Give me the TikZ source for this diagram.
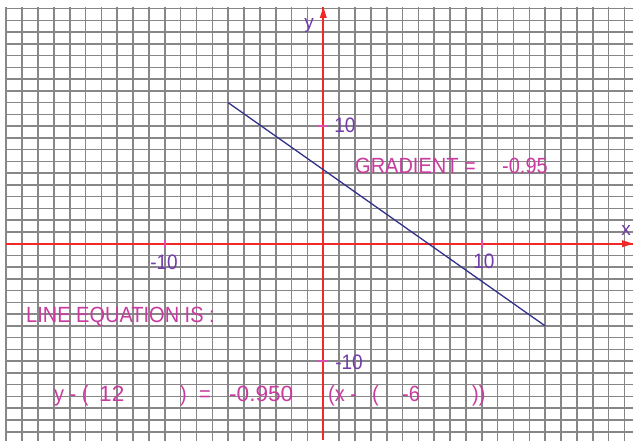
\documentclass[tikz,border=0pt]{standalone}
\usepackage{fontspec}
\setmainfont{Liberation Sans}
\usepackage{graphicx}
\definecolor{gridc}{RGB}{135,135,135}
\definecolor{axisc}{RGB}{240,40,40}
\definecolor{magc}{RGB}{200,60,160}
\definecolor{purc}{RGB}{115,60,170}
\definecolor{linec}{RGB}{50,50,140}
\definecolor{tickc}{RGB}{215,80,180}
\newcommand\tallt[1]{\scalebox{1}[1.1]{#1}}
\newcommand\widet[1]{\scalebox{1.13}[1.1]{#1}}
\tikzset{
  gridline/.style={draw=gridc, line width=1.6pt},
  axisline/.style={draw=axisc, line width=2.2pt},
  axishead/.style={fill=axisc, draw=none},
  tickmark/.style={draw=tickc, line width=1.5pt},
  ticklab/.style={text=purc, font=\fontsize{19}{19}\selectfont, inner sep=0pt},
  axlab/.style={text=purc, font=\fontsize{19}{19}\selectfont, inner sep=0pt},
  eqtxt/.style={text=magc, font=\fontsize{20}{20}\selectfont, inner sep=0pt, anchor=base west},
  graphline/.style={draw=linec, line width=1.3pt}
}
\begin{document}
\begin{tikzpicture}[x=1pt,y=-1pt]
\useasboundingbox (0,0) rectangle (633,441);
\fill[white] (0,0) rectangle (633,441);
\begin{scope}[shift={(323.3,243.7)}, x=15.85pt, y=11.75pt]
  \foreach \i in {-20,...,-1,1,2,...,19} \draw[gridline] (\i,20.15) -- (\i,-16.9);
  \foreach \j in {-16,...,-1,1,2,...,20} \draw[gridline] (-20.05,\j) -- (19.6,\j);
  \coordinate (xl) at (-20.05,0);
  \coordinate (xr) at (19.55,0);
  \coordinate (yb) at (0,-16.7);
  \coordinate (yt) at (0,20.15);
\end{scope}
\draw[axisline] (xl) -- (xr);
\draw[axisline] (yb) -- (yt);
\fill[axishead] (xr) -- ++(-11,3.5) -- ++(0,-7) -- cycle;
\fill[axishead] (yt) -- ++(3.5,11) -- ++(-7,0) -- cycle;
\begin{scope}[shift={(323.3,243.7)}, x=15.85pt, y=11.75pt]
  \coordinate (tx1) at (10,0);
  \coordinate (tx2) at (-10,0);
  \coordinate (ty1) at (0,10);
  \coordinate (ty2) at (0,-10);
  \draw[tickmark] (tx1) ++(0,-4pt) -- ++(0,8pt);
  \draw[tickmark] (tx2) ++(0,-4pt) -- ++(0,8pt);
  \draw[tickmark] (ty1) ++(-5pt,0) -- ++(10pt,0);
  \draw[tickmark] (ty2) ++(-5pt,0) -- ++(10pt,0);
  \coordinate (A) at (-6,12);
  \coordinate (B) at (14,-7);
  \draw[graphline] (A) -- (B);
\end{scope}
\node[ticklab] (l1) at (345,125) {\tallt{10}};
\node[ticklab] (l2) at (164,262) {\tallt{-10}};
\node[ticklab] (l3) at (484,261) {\tallt{10}};
\node[ticklab] (l4) at (349,362) {\tallt{-10}};
\node[axlab] (lx) at (626,230) {x};
\node[axlab] (ly) at (309,25) {y};
\node[eqtxt] (grad) at (355,174) {\tallt{GRADIENT =}};
\node[eqtxt] (gval) at (502,174) {\tallt{-0.95}};
\node[eqtxt] (leq) at (26,323) {\tallt{LINE EQUATION IS :}};
\node[eqtxt] (e1) at (54,402) {\tallt{y - (}};
\node[eqtxt] (e2) at (99,402) {\widet{12}};
\node[eqtxt] (e3) at (180,402) {\tallt{)}};
\node[eqtxt] (e4) at (199,402) {\tallt{=}};
\node[eqtxt] (e5) at (229,402) {\widet{-0.950}};
\node[eqtxt] (e6) at (328,402) {\tallt{(x -}};
\node[eqtxt] (e7) at (372,402) {\tallt{(}};
\node[eqtxt] (e8) at (402,402) {\tallt{-6}};
\node[eqtxt] (e9) at (472,402) {\tallt{))}};
\end{tikzpicture}
\end{document}
